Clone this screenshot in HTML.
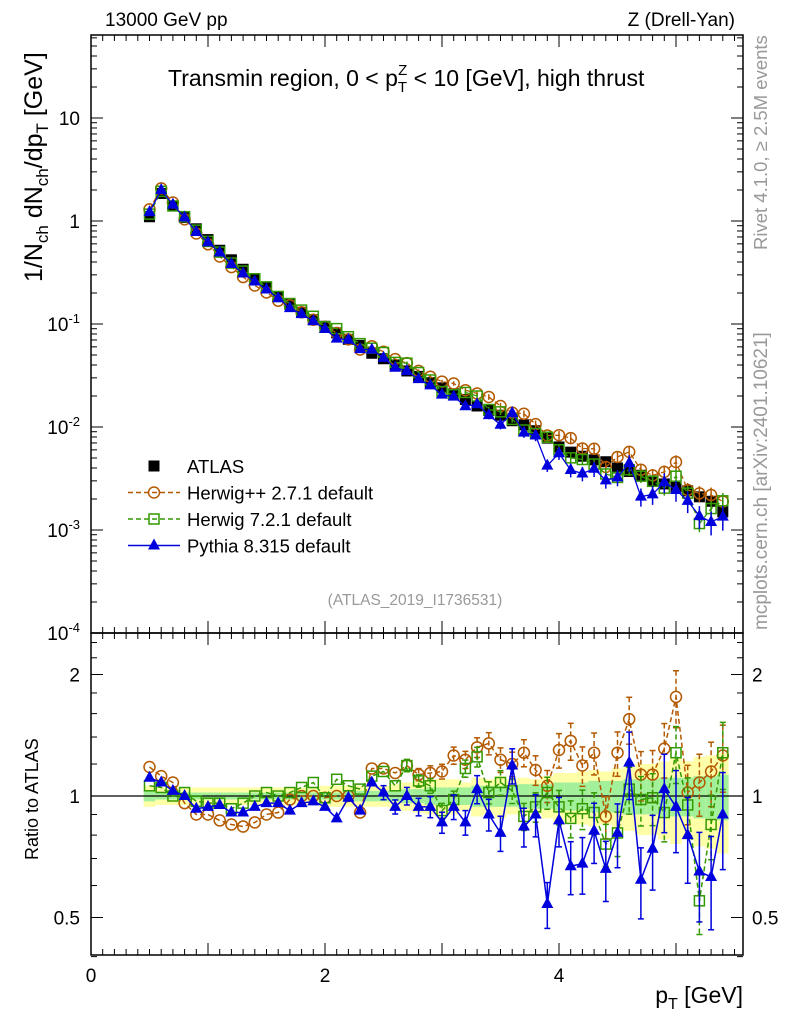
<!DOCTYPE html>
<html><head><meta charset="utf-8"><style>
html,body{margin:0;padding:0;background:#fff;}
svg{display:block;font-family:"Liberation Sans",sans-serif;}
</style></head><body>
<svg id="chart" width="786" height="1024" viewBox="0 0 786 1024" xmlns="http://www.w3.org/2000/svg">
<g id="bands"></g>
<g id="grid"></g>
<g id="series"></g>
<rect x="91" y="35" width="652" height="598" fill="none" stroke="#000" stroke-width="1.5"/>
<rect x="91" y="633" width="652" height="322" fill="none" stroke="#000" stroke-width="1.5"/>
<text x="105" y="26" font-size="19">13000 GeV pp</text>
<text x="735" y="26" font-size="19" text-anchor="end">Z (Drell-Yan)</text>
<text x="168" y="86" font-size="23">Transmin region, 0 &lt; p<tspan font-size="15" dy="6">T</tspan><tspan font-size="15" dx="-9" dy="-17">Z</tspan><tspan dy="11"> &lt; 10 [GeV], high thrust</tspan></text>
<text x="415" y="605" font-size="15.5" fill="#999" text-anchor="middle">(ATLAS_2019_I1736531)</text>
<text transform="translate(767,250) rotate(-90)" font-size="18.5" fill="#999">Rivet 4.1.0, ≥ 2.5M events</text>
<text transform="translate(767,630) rotate(-90)" font-size="19" fill="#999">mcplots.cern.ch [arXiv:2401.10621]</text>
<text transform="translate(42,282) rotate(-90)" font-size="25">1/N<tspan font-size="17" dy="6">ch</tspan><tspan dy="-6"> dN</tspan><tspan font-size="17" dy="6">ch</tspan><tspan dy="-6">/dp</tspan><tspan font-size="17" dy="6">T</tspan><tspan dy="-6"> [GeV]</tspan></text>
<text transform="translate(38,860) rotate(-90)" font-size="18">Ratio to ATLAS</text>
<text x="743" y="1003" font-size="23" text-anchor="end">p<tspan font-size="16" dy="6">T</tspan><tspan dy="-6"> [GeV]</tspan></text>
<g id="legend"></g>
</svg>
<script>
const NS="http://www.w3.org/2000/svg";
const pT=[0.5,0.6,0.7,0.8,0.9,1.0,1.1,1.2,1.3,1.4,1.5,1.6,1.7,1.8,1.9,2.0,2.1,2.2,2.3,2.4,2.5,2.6,2.7,2.8,2.9,3.0,3.1,3.2,3.3,3.4,3.5,3.6,3.7,3.8,3.9,4.0,4.1,4.2,4.3,4.4,4.5,4.6,4.7,4.8,4.9,5.0,5.1,5.2,5.3,5.4];
const atlas=[1.1,1.85,1.4,1.08,0.84,0.66,0.52,0.42,0.34,0.275,0.225,0.185,0.155,0.13,0.11,0.095,0.082,0.071,0.062,0.052,0.046,0.040,0.035,0.031,0.027,0.024,0.021,0.0185,0.016,0.0145,0.013,0.0115,0.0105,0.0092,0.0078,0.0064,0.0057,0.0052,0.0048,0.0046,0.0040,0.0037,0.0034,0.0030,0.0028,0.0026,0.0024,0.0021,0.0019,0.0015];
const ratioHerwigPP=[1.18,1.12,1.08,0.96,0.9,0.9,0.87,0.85,0.84,0.86,0.9,0.91,0.98,1.0,1.0,0.99,1.0,1.0,0.91,1.17,1.17,1.14,1.19,1.13,1.14,1.15,1.26,1.23,1.32,1.35,1.23,1.2,1.28,1.16,1.06,1.3,1.37,1.19,1.28,0.89,1.28,1.55,1.13,1.13,1.31,1.76,1.02,1.08,1.15,1.26];
const ratioHerwig7=[1.06,1.05,1.0,1.02,0.97,0.96,0.96,0.93,0.96,1.0,1.02,1.0,1.02,1.05,1.08,0.99,1.1,1.06,1.04,1.12,1.15,1.06,1.19,1.09,1.06,0.92,0.98,1.17,1.25,1.02,1.08,1.03,0.89,0.94,1.02,0.94,0.88,0.93,0.91,0.76,0.81,1.04,0.98,0.99,0.91,1.28,0.95,0.55,0.85,1.28];
const ratioPythia=[1.11,1.08,1.03,1.0,0.93,0.94,0.95,0.91,0.91,0.94,0.96,0.96,0.92,0.96,0.97,0.94,0.88,0.99,0.92,1.08,1.02,0.94,1.0,0.94,0.94,0.86,0.94,0.86,1.04,0.9,0.81,1.19,0.84,0.9,0.54,0.87,0.67,0.68,0.82,0.66,0.81,1.21,0.62,0.74,1.04,0.94,0.8,0.65,0.63,0.9];
const mcErr=[0.01,0.01,0.01,0.01,0.01,0.01,0.01,0.01,0.01,0.01,0.015,0.015,0.015,0.02,0.02,0.02,0.025,0.025,0.03,0.03,0.04,0.04,0.05,0.05,0.06,0.06,0.07,0.07,0.08,0.09,0.1,0.1,0.11,0.12,0.13,0.14,0.15,0.16,0.17,0.17,0.18,0.19,0.2,0.21,0.22,0.23,0.24,0.25,0.26,0.27];
const bandTot=[0.06,0.05,0.05,0.05,0.05,0.05,0.05,0.05,0.05,0.05,0.05,0.05,0.05,0.05,0.05,0.06,0.06,0.06,0.06,0.06,0.06,0.07,0.08,0.09,0.1,0.1,0.1,0.08,0.11,0.1,0.12,0.1,0.11,0.1,0.12,0.14,0.14,0.15,0.16,0.15,0.17,0.18,0.2,0.2,0.22,0.24,0.22,0.25,0.26,0.28];
const bandStat=[0.03,0.02,0.02,0.02,0.02,0.02,0.02,0.02,0.02,0.02,0.02,0.02,0.02,0.02,0.02,0.02,0.02,0.03,0.03,0.03,0.03,0.03,0.04,0.04,0.05,0.05,0.05,0.05,0.06,0.06,0.06,0.06,0.07,0.07,0.07,0.08,0.08,0.08,0.09,0.09,0.09,0.1,0.1,0.1,0.11,0.11,0.11,0.12,0.12,0.13];
const xTicks=[0,2,4];
const yTicks=[-4,-3,-2,-1,0,1];
const rTicks=[0.5,1,2];

const X=v=>91+v*117;
const Y=v=>221-103*Math.log10(v);
const R=v=>796-121.5*Math.log2(v);
function el(tag,attrs,parent){const e=document.createElementNS(NS,tag);for(const k in attrs)e.setAttribute(k,attrs[k]);parent.appendChild(e);return e;}
const grid=document.getElementById('grid'),series=document.getElementById('series'),bands=document.getElementById('bands'),legend=document.getElementById('legend');

pT.forEach((p,i)=>{
 const y=el('rect',{x:X(p-0.05),width:117*0.1,y:R(1+bandTot[i]),height:R(1-bandTot[i])-R(1+bandTot[i]),fill:'#ffff99',opacity:0.85},bands);
 
 
 const g=el('rect',{x:X(p-0.05),width:117*0.1,y:R(1+bandStat[i]),height:R(1-bandStat[i])-R(1+bandStat[i]),fill:'#99ee99',opacity:0.9},bands);
 
 
});
for(let v=0;v<=5.5001;v+=0.1){
 const major=Math.abs(v-Math.round(v))<1e-6, len=major?12:6;
 [[633,-1],[955,-1],[35,1],[633,1]].forEach(([y0,d])=>el('line',{x1:X(v),x2:X(v),y1:y0,y2:y0+d*len,stroke:'#000','stroke-width':1},grid));
}
xTicks.forEach(v=>{const t=el('text',{x:X(v),y:982,'font-size':19,'text-anchor':'middle'},grid);t.textContent=v;
 
 });
yTicks.forEach(e=>{
 const y=Y(Math.pow(10,e));
 if(y>=35&&y<=634){el('line',{x1:91,x2:103,y1:y,y2:y,stroke:'#000'},grid);el('line',{x1:743,x2:731,y1:y,y2:y,stroke:'#000'},grid);}
 for(let m=2;m<=9;m++){const ym=Y(m*Math.pow(10,e));if(ym>36&&ym<633){el('line',{x1:91,x2:97,y1:ym,y2:ym,stroke:'#000'},grid);el('line',{x1:743,x2:737,y1:ym,y2:ym,stroke:'#000'},grid);}}
 const t=el('text',{x:80,y:y+7,'font-size':19,'text-anchor':'end'},grid);
 
 
 if(e===0)t.textContent='1';else if(e===1)t.textContent='10';
 else{t.textContent='10';const s=el('tspan',{'font-size':13,dy:-8},t);s.textContent=String(e);}
});
[0.4,0.5,0.6,0.7,0.8,0.9,1,1.2,1.4,1.6,1.8,2,2.2,2.4].forEach(v=>{
 const y=R(v),maj=rTicks.includes(v),len=maj?12:6;
 el('line',{x1:91,x2:91+len,y1:y,y2:y,stroke:'#000'},grid);el('line',{x1:743,x2:743-len,y1:y,y2:y,stroke:'#000'},grid);
});
rTicks.forEach(v=>{
 const a=el('text',{x:80,y:R(v)+7,'font-size':19,'text-anchor':'end'},grid);a.textContent=v;
 
 
 const b=el('text',{x:752,y:R(v)+7,'font-size':19},grid);b.textContent=v;
 
 
});
el('line',{x1:91,x2:743,y1:R(1),y2:R(1),stroke:'#000','stroke-width':1.3},grid);

function marker(kind,x,y,color,parent){
 let m;
 if(kind==='sq')m=el('rect',{x:x-5.5,y:y-5.5,width:11,height:11,fill:'#000'},parent);
 else if(kind==='osq')m=el('rect',{x:x-5,y:y-5,width:10,height:10,fill:'none',stroke:color,'stroke-width':1.5},parent);
 else if(kind==='oc')m=el('circle',{cx:x,cy:y,r:5.5,fill:'none',stroke:color,'stroke-width':1.5},parent);
 else m=el('polygon',{points:`${x},${y-7} ${x-6},${y+4} ${x+6},${y+4}`,fill:color},parent);
 return m;
}
const MC=[
 {name:'herwigpp',ratio:ratioHerwigPP,color:'#b35900',dash:'5,3',kind:'oc',ef:0.7},
 {name:'herwig7',ratio:ratioHerwig7,color:'#339900',dash:'5,3',kind:'osq',ef:0.7},
 {name:'pythia',ratio:ratioPythia,color:'#0000dd',dash:'',kind:'tri',ef:1}
];
pT.forEach((p,i)=>{const m=marker('sq',X(p),Y(atlas[i]),'#000',series);
 
 });
MC.forEach(s=>{
 const g=el('g',{},series);
 
 
 const pm=pT.map((p,i)=>`${X(p)},${Y(atlas[i]*s.ratio[i])}`).join(' ');
 el('polyline',{points:pm,fill:'none',stroke:s.color,'stroke-width':1.3,'stroke-dasharray':s.dash},g);
 const pr=pT.map((p,i)=>`${X(p)},${R(s.ratio[i])}`).join(' ');
 el('polyline',{points:pr,fill:'none',stroke:s.color,'stroke-width':1.5,'stroke-dasharray':s.dash},g);
 pT.forEach((p,i)=>{
  const e=mcErr[i]*s.ef, v=s.ratio[i];
  if(e>0.03){
   el('line',{x1:X(p),x2:X(p),y1:R(v*(1+e)),y2:R(Math.max(v*(1-e),0.3)),stroke:s.color,'stroke-width':1.5,'stroke-dasharray':s.dash},g);
   el('line',{x1:X(p)-3,x2:X(p)+3,y1:R(v*(1+e)),y2:R(v*(1+e)),stroke:s.color,'stroke-width':1.5},g);
   el('line',{x1:X(p)-3,x2:X(p)+3,y1:R(v*(1-e)),y2:R(v*(1-e)),stroke:s.color,'stroke-width':1.5},g);
   el('line',{x1:X(p),x2:X(p),y1:Y(atlas[i]*v*(1+e)),y2:Y(atlas[i]*v*(1-e)),stroke:s.color,'stroke-width':1.5},g);
  }
  const a=marker(s.kind,X(p),Y(atlas[i]*v),s.color,g);
  
  
  const b=marker(s.kind,X(p),R(v),s.color,g);
  
  
 });
});
const L=[['sq','#000','ATLAS',''],['oc','#b35900','Herwig++ 2.7.1 default','5,3'],['osq','#339900','Herwig 7.2.1 default','5,3'],['tri','#0000dd','Pythia 8.315 default','']];
L.forEach((l,i)=>{
 const y=466+i*26.5;
 const g=el('g',{},legend);
 
 
 if(i>0)el('line',{x1:128,x2:180,y1:y,y2:y,stroke:l[1],'stroke-width':1.5,'stroke-dasharray':l[3]},g);
 marker(l[0],154,y,l[1],g);
 const t=el('text',{x:187,y:y+7,'font-size':18.5},g);t.textContent=l[2];
});
</script>
</body></html>
